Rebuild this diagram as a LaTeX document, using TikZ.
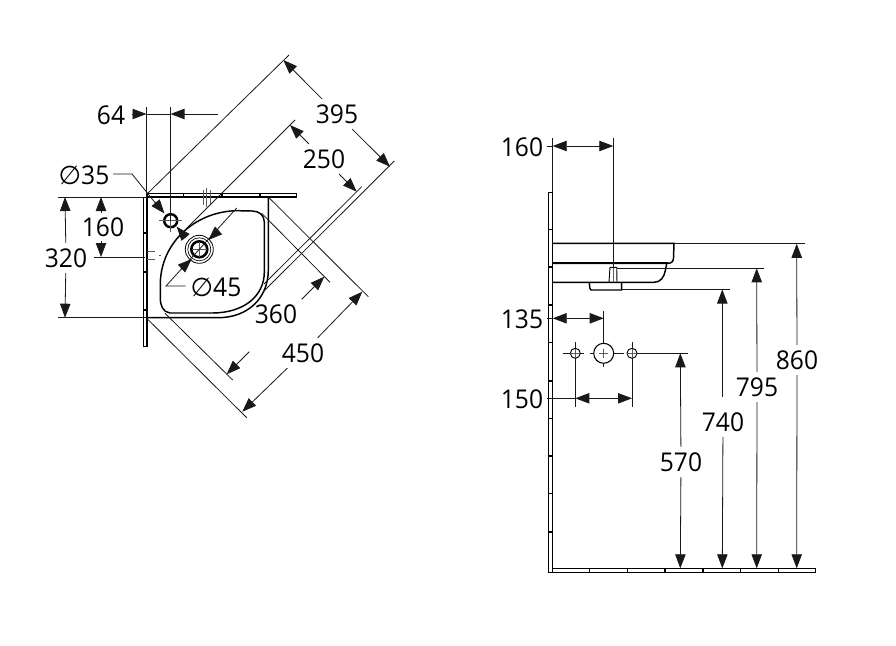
\documentclass[tikz,border=0pt]{standalone}
\usepackage{fontspec}
\setmainfont[FakeStretch=0.95]{Open Sans}
\newfontfamily\symfont{DejaVu Sans}
\usepackage{tikz}
\usetikzlibrary{arrows.meta,positioning}
\definecolor{myLine}{RGB}{25,25,25}
\definecolor{myGray}{RGB}{90,90,90}
\tikzset{
    dimline/.style={draw=myLine,line width=0.6pt},
    dimtip/.style={dimline,-{Triangle[length=10.5pt,width=7.8pt]}},
    outline/.style={draw=black,line width=1.1pt},
    wall/.style={draw=black,line width=0.7pt,fill=white},
    sep/.style={draw=black,line width=1.2pt},
    cline/.style={draw=myGray,line width=0.5pt},
    dimlabel/.style={font=\fontsize{19.4pt}{21pt}\selectfont,inner sep=4pt,text=black}
}
\begin{document}
\begin{tikzpicture}[x=0.75pt,y=-0.75pt]
    \useasboundingbox (0,0) rectangle (896,646);

    % top view: walls
    \draw[wall] (147,193) rectangle (296,197);
    \draw[wall] (143,197) rectangle (147,346);
    \draw[sep] (183.3,193) -- (183.3,197);
    \draw[sep] (221.7,193) -- (221.7,197);
    \draw[sep] (260,193) -- (260,197);
    \draw[sep] (143,233) -- (147,233);
    \draw[sep] (143,271.7) -- (147,271.7);
    \draw[sep] (143,310) -- (147,310);
    \draw[line width=1.1pt] (147,197) -- (296,197);
    \draw[line width=1.1pt] (147,197) -- (147,346);
    \draw[cline] (203,190) -- (203,205);
    \draw[cline] (206.7,188) -- (206.7,207);
    \draw[cline] (210.7,190) -- (210.7,205);
    \draw[cline] (147,251.7) -- (155,251.7);
    \draw[cline] (147,259.3) -- (155,259.3);
    \draw[cline] (159,255.5) -- (161,255.5);

    % top view: basin
    \draw[outline] (147,317.7) -- (218,317.7) .. controls (248,317.7) and (268.3,298) .. (268.3,270) -- (268.3,197);
    \draw[outline] (170,313) .. controls (163,312) and (160.3,306) .. (160.3,298) -- (160.3,282)
        .. controls (162,240) and (198,210.7) .. (238,210.7) -- (252,211)
        .. controls (259,211) and (264.3,215) .. (264.3,222) -- (264.3,272)
        .. controls (264.3,296) and (244,313) .. (212,313) -- cycle;

    % top view: holes
    \draw[line width=1.8pt] (170.7,220.7) circle (6.5);
    \draw[cline] (159,220.7) -- (182,220.7);
    \draw[cline] (170.7,209) -- (170.7,232);
    \draw[line width=0.6pt] (199.3,249.3) circle (14);
    \draw[line width=0.5pt] (199.3,249.3) circle (11.5);
    \draw[line width=1.9pt] (199.3,249.3) circle (8);
    \draw[cline] (192,249.3) -- (207,249.3);
    \draw[cline] (199.3,242) -- (199.3,257);

    % top view: extension lines
    \draw[dimline] (58,197) -- (147,197);
    \draw[dimline] (58,317.7) -- (147,317.7);
    \draw[dimline] (94,257) -- (145,257);
    \draw[dimline] (146.5,107) -- (146.5,197);
    \draw[dimline] (170.5,107) -- (170.5,221);
    \draw[dimline] (147,194) -- (289,55);
    \draw[dimline] (263.3,291.7) -- (394.3,161);
    \draw[dimline] (186,229) -- (295,120);
    \draw[dimline] (264,284) -- (361.7,186.7);
    \draw[dimline] (146.7,318.3) -- (246.7,417.7);
    \draw[dimline] (268.3,197) -- (368.3,296.7);
    \draw[dimline] (165,313.3) -- (232.7,380);
    \draw[dimline] (261.7,213.3) -- (330,282.3);

    % top view: labels
    \node[dimlabel] (lbl64) at (111,115) {64};
    \node[dimlabel] (lbl395) at (337,114) {395};
    \node[dimlabel] (lbl250) at (324,159) {250};
    \node[dimlabel] (lbl35) at (84,175) {{\symfont ∅}35};
    \node[dimlabel] (lbl160a) at (103,227) {160};
    \node[dimlabel] (lbl320) at (66,258) {320};
    \node[dimlabel] (lbl45) at (216,287) {{\symfont ∅}45};
    \node[dimlabel] (lbl360) at (276,314) {360};
    \node[dimlabel] (lbl450) at (303,353) {450};

    % top view: dimension arrows
    \draw[dimtip] (lbl395) -- (283.3,60);
    \draw[dimtip] (lbl395) -- (390,166.7);
    \draw[dimtip] (lbl250) -- (290,125);
    \draw[dimtip] (lbl250) -- (356.7,191.7);
    \draw[dimtip] (lbl450) -- (242.3,411.7);
    \draw[dimtip] (lbl450) -- (362.3,291.7);
    \draw[dimtip] (249.3,351.7) -- (226.7,374.3);
    \draw[dimtip] (301.7,299.3) -- (324.3,276.7);
    \draw[dimtip] (lbl320) -- (65,197);
    \draw[dimtip] (lbl320) -- (65,317.7);
    \draw[dimtip] (101,213) -- (101,197);
    \draw[dimtip] (101,241) -- (101,257);
    \draw[dimtip] (132,114) -- (146.5,114);
    \draw[dimline] (146.5,114) -- (170.5,114);
    \draw[dimtip] (218,114) -- (170.5,114);

    % leaders of the two holes
    \draw[dimline] (113,174) -- (132,174) -- (157,205);
    \draw[dimtip] (155,202) -- (164.5,213.5);
    \draw[dimtip] (185,236.7) -- (176.7,226.7);
    \draw[dimline] (185.7,286) -- (166,286) -- (236.7,208);
    \draw[dimtip] (219,230) -- (208.3,240);
    \draw[dimtip] (181,269) -- (191.7,259);

    % side view: walls
    \draw[wall] (548.3,192.3) rectangle (552.5,572.3);
    \draw[wall] (552.5,568.3) rectangle (815.7,572.3);
    \draw[sep] (589.3,568.3) -- (589.3,572.3);
    \draw[sep] (627.3,568.3) -- (627.3,572.3);
    \draw[sep] (665,568.3) -- (665,572.3);
    \draw[sep] (702.7,568.3) -- (702.7,572.3);
    \draw[sep] (740.3,568.3) -- (740.3,572.3);
    \draw[sep] (778.3,568.3) -- (778.3,572.3);
    \draw[sep] (547.5,229.3) -- (552.5,229.3);
    \draw[sep] (547.5,266.7) -- (552.5,266.7);
    \draw[sep] (547.5,305) -- (552.5,305);
    \draw[sep] (547.5,342.3) -- (552.5,342.3);
    \draw[sep] (547.5,380.7) -- (552.5,380.7);
    \draw[sep] (547.5,418.3) -- (552.5,418.3);
    \draw[sep] (547.5,456) -- (552.5,456);
    \draw[sep] (547.5,493.3) -- (552.5,493.3);
    \draw[sep] (547.5,531.7) -- (552.5,531.7);

    % side view: basin
    \draw[outline] (552.7,243.3) -- (674,243.3) -- (673.5,258) .. controls (673.3,261.5) and (671.5,263.3) .. (668,263.3) -- (552.7,263.3);
    \draw[line width=1.4pt] (552.7,263.3) -- (668,263.3);
    \draw[outline] (666.7,263.3) -- (665.5,270) .. controls (664,277) and (661,282.3) .. (654,282.3) -- (552.7,282.3);
    \draw[outline] (589.3,282.3) -- (589.8,288) -- (591,290) -- (621.7,290) -- (621.7,282.3);
    \draw[line width=0.7pt] (609,282.3) -- (610,267.3) -- (616.7,267.3) -- (617,282.3);
    \draw[cline] (613.3,268) -- (613.3,282);

    % side view: holes
    \draw[line width=0.7pt] (575.3,353.3) circle (5);
    \draw[line width=0.7pt] (632,353.3) circle (5);
    \draw[line width=0.8pt] (603.7,353.3) circle (10);
    \draw[cline] (575.3,349) -- (575.3,358);
    \draw[cline] (632,349) -- (632,358);
    \draw[cline] (599,353.3) -- (608,353.3);
    \draw[cline] (603.7,349) -- (603.7,358);
    \draw[dimline,dash pattern=on 6pt off 4pt] (563,353.3) -- (593,353.3);
    \draw[cline] (570,353.3) -- (580,353.3);
    \draw[cline] (627,353.3) -- (637,353.3);
    \draw[dimline] (614,353.3) -- (624,353.3);

    % side view: extension lines
    \draw[dimline] (552.7,138) -- (552.7,192.3);
    \draw[dimline] (613.3,138) -- (613.3,268);
    \draw[dimline] (603.7,311) -- (603.7,343.3);
    \draw[dimline] (603.7,363.3) -- (603.7,366.7);
    \draw[dimline] (575.3,341.7) -- (575.3,348);
    \draw[dimline] (632,341.7) -- (632,348);
    \draw[dimline] (575.3,358.3) -- (575.3,406.7);
    \draw[dimline] (632,358.3) -- (632,406.7);
    \draw[dimline] (674,243.8) -- (805,243.8);
    \draw[dimline] (617,268.3) -- (764.3,268.3);
    \draw[dimline] (622,289.5) -- (730,289.5);
    \draw[dimline] (637,353.3) -- (688.3,353.3);

    % side view: labels
    \node[dimlabel] (lbl160b) at (522,147) {160};
    \node[dimlabel] (lbl135) at (522,319) {135};
    \node[dimlabel] (lbl150) at (522,399) {150};
    \node[dimlabel] (lbl860) at (797,360) {860};
    \node[dimlabel] (lbl795) at (757,387) {795};
    \node[dimlabel] (lbl740) at (723,422) {740};
    \node[dimlabel] (lbl570) at (681,462) {570};

    % side view: dimension arrows
    \draw[dimline] (547,146) -- (553,146);
    \draw[dimtip] (583,146) -- (552.7,146);
    \draw[dimtip] (583,146) -- (613.3,146);
    \draw[dimline] (547,318.3) -- (553,318.3);
    \draw[dimtip] (578,318.3) -- (552.7,318.3);
    \draw[dimtip] (578,318.3) -- (603.7,318.3);
    \draw[dimline] (547,398.3) -- (575.3,398.3);
    \draw[dimtip] (603,398.3) -- (575.3,398.3);
    \draw[dimtip] (603,398.3) -- (632,398.3);
    \draw[dimtip] (lbl860) -- (796.7,243.8);
    \draw[dimtip] (lbl860) -- (796.7,568.3);
    \draw[dimtip] (lbl795) -- (756.7,268.3);
    \draw[dimtip] (lbl795) -- (756.7,568.3);
    \draw[dimtip] (722.3,397) -- (722.3,289.5);
    \draw[dimtip] (lbl740) -- (722.3,568.3);
    \draw[dimtip] (lbl570) -- (680.3,353.3);
    \draw[dimtip] (lbl570) -- (680.3,568.3);
\end{tikzpicture}
\end{document}
